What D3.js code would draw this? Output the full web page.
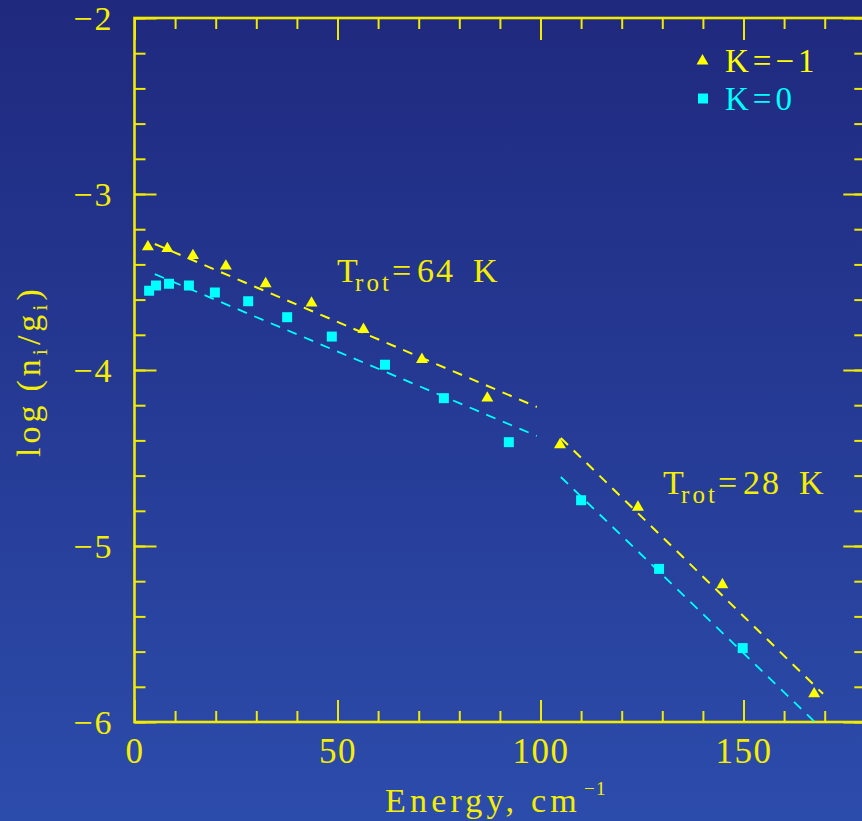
<!DOCTYPE html>
<html><head><meta charset="utf-8">
<script src="https://cdn.jsdelivr.net/npm/d3@7"></script>
<style>
body{margin:0;background:#26379a;}
svg{display:block;}
text{font-family:"Liberation Serif","Times New Roman",serif;fill:#f5ee00;}
</style>
</head><body>
<svg id="chart" width="862" height="821"></svg>
<script>
// ---- data ----
const kMinus1Energy = [3.3, 8.1, 14.4, 22.5, 32.3, 43.6, 56.4, 70.8, 86.9, 104.8, 124.0, 144.8, 167.4];
const kMinus1LogN   = [-3.30, -3.31, -3.35, -3.41, -3.51, -3.62, -3.77, -3.94, -4.16, -4.425, -4.78, -5.22, -5.84];
const k0Energy = [3.6, 5.3, 8.5, 13.4, 19.8, 28.0, 37.6, 48.6, 61.7, 76.2, 92.2, 110.0, 129.2, 149.8];
const k0LogN   = [-3.55, -3.52, -3.51, -3.52, -3.56, -3.61, -3.70, -3.81, -3.97, -4.16, -4.41, -4.74, -5.13, -5.58];
// rotational-temperature fits: [energy, logN] endpoints
const fitKMinus1Warm = [[5.0, -3.284], [99.1, -4.21]];
const fitK0Warm      = [[5.0, -3.455], [99.1, -4.375]];
const fitKMinus1Cold = [[105.0, -4.386], [169.6, -5.84]];
const fitK0Cold      = [[105.0, -4.608], [170.0, -6.054]];
const xMajorTicks = [0, 50, 100, 150];
const yMajorTicks = [-6, -5, -4, -3, -2];
const legendLabels = ["K=\u22121", "K=0"];
const annotations = [
  {temp: "64", e: 49.9, logN: -3.50},
  {temp: "28", e: 130.2, logN: -4.705}
];

// ---- layout ----
const W = 862, H = 821;
const L = 134.5, R = 865.3, T = 18, B = 722;
const YELLOW = "#ffff00", CYAN = "#00ffff", AXIS = "#f2ea00";

const svg = d3.select("#chart");
const defs = svg.append("defs");
const grad = defs.append("linearGradient").attr("id","bg").attr("x1",0).attr("y1",0).attr("x2",0).attr("y2",1);
grad.append("stop").attr("offset","0%").attr("stop-color","#1f297e");
grad.append("stop").attr("offset","100%").attr("stop-color","#2c4cab");
svg.append("rect").attr("width",W).attr("height",H).attr("fill","url(#bg)");
defs.append("clipPath").attr("id","plotclip").append("rect")
  .attr("x",L).attr("y",T).attr("width",R-L).attr("height",B-T);

const x = d3.scaleLinear().domain([0,180]).range([L,R]);
const y = d3.scaleLinear().domain([-6,-2]).range([B,T]);

// ---- axes ----
function styleAxis(g){
  g.select(".domain").remove();
  g.selectAll(".tick line").attr("stroke",AXIS).attr("stroke-width",2);
}
const xMinor = d3.range(0,181,10), yMinor = d3.range(-6,-1.99,0.2).map(v=>+v.toFixed(2));
svg.append("g").attr("transform",`translate(0,${B})`)
  .call(d3.axisBottom(x).tickValues(xMinor).tickSize(-11).tickFormat("")).call(styleAxis);
svg.append("g").attr("transform",`translate(0,${T})`)
  .call(d3.axisTop(x).tickValues(xMinor).tickSize(-11).tickFormat("")).call(styleAxis);
svg.append("g").attr("transform",`translate(${L},0)`)
  .call(d3.axisLeft(y).tickValues(yMinor).tickSize(-11).tickFormat("")).call(styleAxis);
svg.append("g").attr("transform",`translate(${R},0)`)
  .call(d3.axisRight(y).tickValues(yMinor).tickSize(-11).tickFormat("")).call(styleAxis);
const fmt = d => d3.format("d")(d);
const gxb = svg.append("g").attr("transform",`translate(0,${B})`)
  .call(d3.axisBottom(x).tickValues(xMajorTicks).tickSize(-22).tickPadding(16).tickFormat(fmt)).call(styleAxis);
gxb.selectAll("text").attr("font-size",35).attr("fill",AXIS).attr("font-family","Liberation Serif").attr("letter-spacing","1.5px");
svg.append("g").attr("transform",`translate(0,${T})`)
  .call(d3.axisTop(x).tickValues(xMajorTicks).tickSize(-22).tickFormat("")).call(styleAxis);
const gyl = svg.append("g").attr("transform",`translate(${L},0)`)
  .call(d3.axisLeft(y).tickValues(yMajorTicks).tickSize(-22).tickPadding(21).tickFormat(fmt)).call(styleAxis);
gyl.selectAll("text").attr("font-size",34).attr("fill",AXIS).attr("font-family","Liberation Serif").attr("letter-spacing","2px").attr("dy","0.34em");
svg.append("g").attr("transform",`translate(${R},0)`)
  .call(d3.axisRight(y).tickValues(yMajorTicks).tickSize(-22).tickFormat("")).call(styleAxis);

svg.append("rect").attr("x",L).attr("y",T).attr("width",R-L).attr("height",B-T)
  .attr("fill","none").attr("stroke",AXIS).attr("stroke-width",2.6);

// ---- fit lines ----
const line = d3.line().x(d=>x(d[0])).y(d=>y(d[1]));
const plot = svg.append("g").attr("clip-path","url(#plotclip)");
[[fitKMinus1Warm,YELLOW,2],[fitK0Warm,CYAN,1.8],[fitKMinus1Cold,YELLOW,2],[fitK0Cold,CYAN,1.8]].forEach(([pts,c,w])=>{
  plot.append("path").attr("d",line(pts)).attr("fill","none").attr("stroke",c)
    .attr("stroke-width",w).attr("stroke-dasharray","10,8");
});

// ---- points ----
const tri = d3.symbol().type(d3.symbolTriangle).size(62);
const sq = d3.symbol().type(d3.symbolSquare).size(100);
plot.selectAll("path.km1").data(d3.zip(kMinus1Energy,kMinus1LogN)).join("path")
  .attr("class","km1").attr("d",tri).attr("fill",YELLOW)
  .attr("transform",d=>`translate(${x(d[0])},${y(d[1])})`);
plot.selectAll("path.k0").data(d3.zip(k0Energy,k0LogN)).join("path")
  .attr("class","k0").attr("d",sq).attr("fill",CYAN)
  .attr("transform",d=>`translate(${x(d[0])},${y(d[1])})`);

// ---- legend ----
svg.append("path").attr("d",tri).attr("fill",YELLOW).attr("transform","translate(702.5,61)");
svg.append("path").attr("d",sq).attr("fill",CYAN).attr("transform","translate(703,98.5)");
svg.append("text").attr("x",725).attr("y",72).attr("font-size",33).attr("letter-spacing","4px")
  .style("fill",YELLOW).text(legendLabels[0]);
svg.append("text").attr("x",725).attr("y",110).attr("font-size",33).attr("letter-spacing","4px")
  .style("fill",CYAN).text(legendLabels[1]);

// ---- annotations ----
annotations.forEach(a=>{
  const g = svg.append("g").attr("transform",`translate(${x(a.e)},${y(a.logN)})`);
  g.append("text").attr("x",0).attr("y",0).attr("font-size",34).text("T");
  g.append("text").attr("x",18).attr("y",9).attr("font-size",25).attr("letter-spacing","3px").text("rot");
  g.append("text").attr("x",55).attr("y",0).attr("font-size",34).text("=");
  g.append("text").attr("x",80).attr("y",0).attr("font-size",34).attr("letter-spacing","2px").text(a.temp);
  g.append("text").attr("x",136).attr("y",0).attr("font-size",34).text("K");
});

// ---- axis titles ----
const xt = svg.append("text").attr("x",385).attr("y",812).attr("font-size",34).attr("letter-spacing","4.2px");
xt.append("tspan").text("Energy, cm");
xt.append("tspan").attr("dx",3).attr("dy",-17).attr("font-size",19).attr("letter-spacing","1.5px").text("\u22121");

const yt = svg.append("text").attr("transform","translate(40,457) rotate(-90)").attr("font-size",34).attr("letter-spacing","4px");
yt.append("tspan").text("log");
yt.append("tspan").attr("dx",10).text("(n");
yt.append("tspan").attr("dy",7).attr("font-size",22).text("i");
yt.append("tspan").attr("dy",-7).text("/g");
yt.append("tspan").attr("dy",7).attr("font-size",22).text("i");
yt.append("tspan").attr("dy",-7).text(")");
</script>
</body></html>
